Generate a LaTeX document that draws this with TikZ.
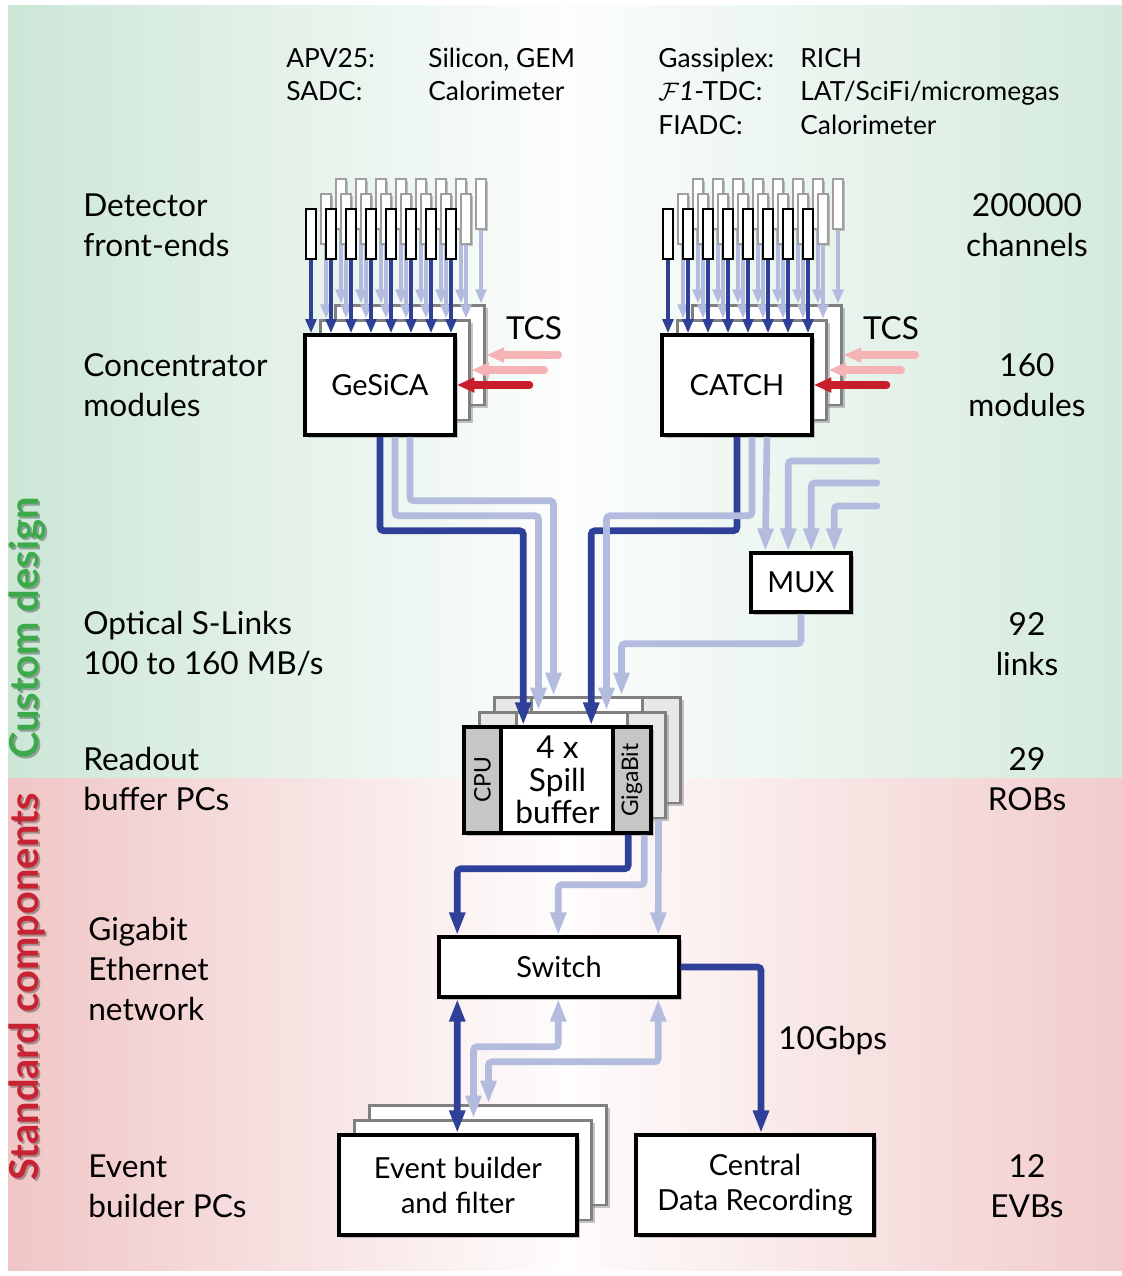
\documentclass[tikz,border=0pt]{standalone}
\usepackage{fontspec}
\setmainfont{Lato}
\usetikzlibrary{arrows.meta,calc,positioning,shadows}

\definecolor{linkdark}{RGB}{46,64,152}
\definecolor{linklight}{RGB}{179,187,223}
\definecolor{tcsred}{RGB}{200,30,43}
\definecolor{tcspink}{RGB}{245,179,181}
\definecolor{customgreen}{RGB}{60,170,75}
\definecolor{standardred}{RGB}{200,35,50}
\definecolor{bggreen}{RGB}{204,230,214}
\definecolor{bgpink}{RGB}{240,198,198}

\tikzset{
  shadowed/.style={drop shadow={shadow xshift=1.5pt,shadow yshift=-1.5pt,opacity=0.45}},
  box/.style={draw=black, line width=2pt, fill=white, shadowed, align=center, inner sep=0pt,
    font=\fontsize{16.5}{20}\selectfont},
  layerbox/.style={draw=gray, line width=1.7pt, fill=white, shadowed},
  concsize/.style={minimum width=3cm, minimum height=2cm},
  spillsize/.style={minimum width=3.74cm, minimum height=2.12cm},
  evbsize/.style={minimum width=4.76cm, minimum height=2cm},
  section/.style={draw=black, line width=2pt, fill=gray!45, inner sep=0pt, minimum height=2.12cm,
    font=\fontsize{13}{15}\selectfont},
  sectionlayer/.style={section, draw=gray, line width=1.7pt, fill=gray!18},
  chipfront/.style={draw=black, line width=1.1pt, fill=white, inner sep=0pt,
    minimum width=0.2cm, minimum height=1cm},
  chipback/.style={chipfront, draw=gray!75,
    drop shadow={shadow xshift=1pt,shadow yshift=-1pt,opacity=0.45}},
  chiplink/.style={line width=2.1pt, -{Triangle[length=8pt,width=6pt]}},
  link/.style={line width=3.8pt, rounded corners=2pt, -{Triangle[length=13pt,width=8.5pt]}},
  duallink/.style={link, {Triangle[length=13pt,width=8.5pt]}-{Triangle[length=13pt,width=8.5pt]}},
  tcslink/.style={line width=4pt, line cap=round, -{Triangle[length=10pt,width=8pt]}},
  lefttext/.style={anchor=west, align=left, inner sep=0pt, font=\fontsize{18}{22.8}\selectfont},
  righttext/.style={align=center, inner sep=0pt, font=\fontsize{18}{22.8}\selectfont},
  toptext/.style={anchor=base west, inner sep=0pt, font=\fontsize{15}{18}\selectfont},
  sidelabel/.style={rotate=90, inner sep=0pt, font=\fontsize{22.7}{26}\selectfont\bfseries},
}

\begin{document}
\begin{tikzpicture}[x=0.02cm, y=-0.02cm]
\useasboundingbox (0,0) rectangle (1122,1276);

% background panels
\shade[left color=bggreen, right color=bggreen!85, middle color=white!94!bggreen] (8,5) rectangle (1122,778);
\shade[left color=bgpink, right color=bgpink!90, middle color=white!95!bgpink] (8,778) rectangle (1122,1270);

% side labels
\node[sidelabel, text=black, opacity=0.3] at (29,630) {Custom design};
\node[sidelabel, text=customgreen] (customlabel) at (27,628) {Custom design};
\node[sidelabel, text=black, opacity=0.3] at (29,989) {Standard components};
\node[sidelabel, text=standardred] (standardlabel) at (27,987) {Standard components};

% front-end chip list
\node[toptext] (apv) at (286,67) {APV25:};
\node[toptext] (apvdet) at (428,67) {Silicon, GEM};
\node[toptext] (sadc) at (286,100) {SADC:};
\node[toptext] (sadcdet) at (428,100) {Calorimeter};
\node[toptext] (gassi) at (658,67) {Gassiplex:};
\node[toptext] (gassidet) at (800,67) {RICH};
\node[toptext] (tdc) at (658,100) {$\mathcal{F}\mathit{1}$-TDC:};
\node[toptext] (tdcdet) at (800,100) {LAT/SciFi/micromegas};
\node[toptext] (fiadc) at (658,134) {FIADC:};
\node[toptext] (fiadcdet) at (800,134) {Calorimeter};

% left column
\node[lefttext] (detlabel) at (83,225) {Detector\\front-ends};
\node[lefttext] (conclabel) at (83,385) {Concentrator\\modules};
\node[lefttext] (slinklabel) at (83,644) {Optical S-Links\\100 to 160 MB/s};
\node[lefttext] (roblabel) at (83,779) {Readout\\buffer PCs};
\node[lefttext] (netlabel) at (88,969) {Gigabit\\Ethernet\\network};
\node[lefttext] (evblabel) at (88,1186) {Event\\builder PCs};

% right column
\node[righttext] (chanlabel) at (1027,225) {200000\\channels};
\node[righttext] (modlabel) at (1027,385) {160\\modules};
\node[righttext] (linkslabel) at (1027,644) {92\\links};
\node[righttext] (robslabel) at (1027,779) {29\\ROBs};
\node[righttext] (evbslabel) at (1027,1186) {12\\EVBs};

% concentrator stacks
\foreach \g/\x in {gesica/380, catch/737}{
  \node[layerbox, concsize] (\g3) at ({\x+30},355) {};
  \node[layerbox, concsize] (\g2) at ({\x+15},370) {};
}
\node[box, concsize] (gesica) at (380,385) {GeSiCA};
\node[box, concsize] (catch) at (737,385) {CATCH};

% front-end chips
\foreach \g/\gx in {gesica/0, catch/357}{
  \foreach \l in {3,2}{
    \foreach \i in {0,...,7}{
      \node[chipback] (\g-chip-\l-\i) at ({311+\gx+20*\i+15*(\l-1)},{234-15*(\l-1)}) {};
      \draw[chiplink, linklight] (\g-chip-\l-\i.south) -- (\g-chip-\l-\i.south |- \g\l.north);
    }
  }
  \foreach \i in {0,...,7}{
    \node[chipfront] (\g-chip-1-\i) at ({311+\gx+20*\i},234) {};
    \draw[chiplink, linkdark] (\g-chip-1-\i.south) -- (\g-chip-1-\i.south |- \g.north);
  }
}

% trigger control system
\node[font=\fontsize{18}{20}\selectfont] (tcsgesica) at (534,328) {TCS};
\node[font=\fontsize{18}{20}\selectfont] (tcscatch) at (891,328) {TCS};
\foreach \g in {gesica, catch}{
  \draw[tcslink, tcspink] ($(\g3.east)+(72,0)$) -- (\g3.east);
  \draw[tcslink, tcspink] ($(\g2.east)+(73,0)$) -- (\g2.east);
  \draw[tcslink, tcsred] ($(\g.east)+(73,0)$) -- (\g.east);
}

% multiplexer
\node[box, minimum width=2cm, minimum height=1.18cm] (mux) at (801,582.5) {MUX};
\coordinate (muxinA) at (877,461);
\coordinate (muxinB) at (877,483);
\coordinate (muxinC) at (877,506);
\draw[link, linklight, line cap=round] (muxinA) -| ($(mux.north west)+(39,0)$);
\draw[link, linklight, line cap=round] (muxinB) -| ($(mux.north west)+(62,0)$);
\draw[link, linklight, line cap=round] (muxinC) -| ($(mux.north west)+(85,0)$);

% readout buffer stack
\foreach \n/\d in {3/30,2/15}{
  \node[layerbox, spillsize] (spill\n) at ({557.5+\d},{780-\d}) {};
  \node[sectionlayer, anchor=west, minimum width=0.74cm] (cpu\n) at (spill\n.west) {};
  \node[sectionlayer, anchor=east, minimum width=0.76cm] (gigabit\n) at (spill\n.east) {};
}
\node[box, spillsize, font=\fontsize{18}{18.5}\selectfont] (spill) at (557.5,780) {4 x\\Spill\\buffer};
\node[section, anchor=west, minimum width=0.74cm] (cpu) at (spill.west) {\rotatebox{90}{CPU}};
\node[section, anchor=east, minimum width=0.76cm] (gigabit) at (spill.east) {\rotatebox{90}{GigaBit}};

% S-links into the readout buffers
\draw[link, linkdark] (gesica.south) -- ++(0,94) -| ($(spill.north west)+(61,0)$);
\draw[link, linklight] ($(gesica.south)+(15,0)$) -- ++(0,79) -| ($(spill2.north west)+(61,0)$);
\draw[link, linklight] ($(gesica.south)+(30,0)$) -- ++(0,64) -| ($(spill3.north west)+(61,0)$);
\draw[link, linkdark] (catch.south) -- ++(0,94) -| ($(spill.north west)+(129,0)$);
\draw[link, linklight] ($(catch.south)+(15,0)$) -- ++(0,79) -| ($(spill2.north west)+(129,0)$);
\draw[link, linklight] ($(catch.south)+(30,0)$) -- ($(mux.north west)+(16,0)$);
\draw[link, linklight] (mux.south) -- ++(0,30) -| ($(spill3.north west)+(129,0)$);

% gigabit network
\node[box, minimum width=4.8cm, minimum height=1.2cm] (switch) at (559,967) {Switch};
\draw[link, linkdark] ($(spill.south west)+(166,0)$) -- ++(0,34) -| ($(switch.north west)+(20,0)$);
\draw[link, linklight] ($(spill.south west)+(182,0)$) -- ++(0,50) -| ($(switch.north west)+(121,0)$);
\draw[link, linklight] ($(spill2.south west)+(181,0)$) -- ($(switch.north west)+(221,0)$);

% event builders and recording
\node[layerbox, evbsize] (evb3) at (488,1155) {};
\node[layerbox, evbsize] (evb2) at (473,1170) {};
\node[box, evbsize] (evb) at (458,1185) {Event builder\\and filter};
\node[box, evbsize] (cdr) at (755,1185) {Central\\Data Recording};

\draw[duallink, linkdark] ($(switch.south west)+(20,0)$) -- ($(evb.north west)+(120,0)$);
\draw[duallink, linklight] ($(switch.south west)+(121,0)$) -- ++(0,48) -| ($(evb2.north west)+(121,0)$);
\draw[duallink, linklight] ($(switch.south west)+(221,0)$) -- ++(0,63) -| ($(evb3.north west)+(121,0)$);
\draw[link, linkdark] (switch.east) -| ($(cdr.north)+(6,0)$);
\node[anchor=west, inner sep=0pt, font=\fontsize{18}{20}\selectfont] (gbps) at (778,1041) {10Gbps};
\end{tikzpicture}
\end{document}
